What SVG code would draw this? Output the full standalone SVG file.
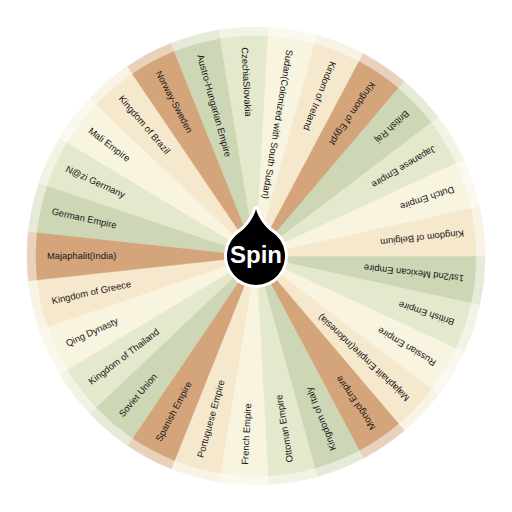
<svg xmlns="http://www.w3.org/2000/svg" xmlns:xlink="http://www.w3.org/1999/xlink" width="512" height="512" viewBox="0 0 512 512">
<style>
.s{color:#cdd6b5}.g{color:#e4e8cc}.l{color:#f8f4e0}.c{color:#f5e8cc}.t{color:#d4a57a}
.lbl{font-family:"Liberation Sans",Arial,sans-serif;font-size:9.4px;fill:#161616}
.spin{font-family:"Liberation Sans",Arial,sans-serif;font-size:24px;font-weight:bold;fill:#ffffff}
</style>
<defs>
<path id="w" d="M256,256 L476,256 A220,220 0 0 1 470.857,303.294 Z" fill="currentColor" stroke="currentColor" stroke-width="0.6"/>
<path id="r" d="M256,256 L485,256 A229,229 0 0 1 479.646,305.228 Z" fill="currentColor" stroke="currentColor" stroke-width="0.6"/>
</defs>
<rect width="512" height="512" fill="#ffffff"/>
<g id="ring" opacity="0.5">
<use xlink:href="#r" class="s"/>
<use xlink:href="#r" class="g" transform="rotate(12.4138 256 256)"/>
<use xlink:href="#r" class="l" transform="rotate(24.8276 256 256)"/>
<use xlink:href="#r" class="c" transform="rotate(37.2414 256 256)"/>
<use xlink:href="#r" class="t" transform="rotate(49.6552 256 256)"/>
<use xlink:href="#r" class="s" transform="rotate(62.0690 256 256)"/>
<use xlink:href="#r" class="g" transform="rotate(74.4828 256 256)"/>
<use xlink:href="#r" class="l" transform="rotate(86.8966 256 256)"/>
<use xlink:href="#r" class="c" transform="rotate(99.3103 256 256)"/>
<use xlink:href="#r" class="t" transform="rotate(111.7241 256 256)"/>
<use xlink:href="#r" class="s" transform="rotate(124.1379 256 256)"/>
<use xlink:href="#r" class="g" transform="rotate(136.5517 256 256)"/>
<use xlink:href="#r" class="l" transform="rotate(148.9655 256 256)"/>
<use xlink:href="#r" class="c" transform="rotate(161.3793 256 256)"/>
<use xlink:href="#r" class="t" transform="rotate(173.7931 256 256)"/>
<use xlink:href="#r" class="s" transform="rotate(186.2069 256 256)"/>
<use xlink:href="#r" class="g" transform="rotate(198.6207 256 256)"/>
<use xlink:href="#r" class="l" transform="rotate(211.0345 256 256)"/>
<use xlink:href="#r" class="c" transform="rotate(223.4483 256 256)"/>
<use xlink:href="#r" class="t" transform="rotate(235.8621 256 256)"/>
<use xlink:href="#r" class="s" transform="rotate(248.2759 256 256)"/>
<use xlink:href="#r" class="g" transform="rotate(260.6897 256 256)"/>
<use xlink:href="#r" class="l" transform="rotate(273.1034 256 256)"/>
<use xlink:href="#r" class="c" transform="rotate(285.5172 256 256)"/>
<use xlink:href="#r" class="t" transform="rotate(297.9310 256 256)"/>
<use xlink:href="#r" class="s" transform="rotate(310.3448 256 256)"/>
<use xlink:href="#r" class="g" transform="rotate(322.7586 256 256)"/>
<use xlink:href="#r" class="l" transform="rotate(335.1724 256 256)"/>
<use xlink:href="#r" class="c" transform="rotate(347.5862 256 256)"/>
</g>
<g id="wheel">
<use xlink:href="#w" class="s"/>
<use xlink:href="#w" class="g" transform="rotate(12.4138 256 256)"/>
<use xlink:href="#w" class="l" transform="rotate(24.8276 256 256)"/>
<use xlink:href="#w" class="c" transform="rotate(37.2414 256 256)"/>
<use xlink:href="#w" class="t" transform="rotate(49.6552 256 256)"/>
<use xlink:href="#w" class="s" transform="rotate(62.0690 256 256)"/>
<use xlink:href="#w" class="g" transform="rotate(74.4828 256 256)"/>
<use xlink:href="#w" class="l" transform="rotate(86.8966 256 256)"/>
<use xlink:href="#w" class="c" transform="rotate(99.3103 256 256)"/>
<use xlink:href="#w" class="t" transform="rotate(111.7241 256 256)"/>
<use xlink:href="#w" class="s" transform="rotate(124.1379 256 256)"/>
<use xlink:href="#w" class="g" transform="rotate(136.5517 256 256)"/>
<use xlink:href="#w" class="l" transform="rotate(148.9655 256 256)"/>
<use xlink:href="#w" class="c" transform="rotate(161.3793 256 256)"/>
<use xlink:href="#w" class="t" transform="rotate(173.7931 256 256)"/>
<use xlink:href="#w" class="s" transform="rotate(186.2069 256 256)"/>
<use xlink:href="#w" class="g" transform="rotate(198.6207 256 256)"/>
<use xlink:href="#w" class="l" transform="rotate(211.0345 256 256)"/>
<use xlink:href="#w" class="c" transform="rotate(223.4483 256 256)"/>
<use xlink:href="#w" class="t" transform="rotate(235.8621 256 256)"/>
<use xlink:href="#w" class="s" transform="rotate(248.2759 256 256)"/>
<use xlink:href="#w" class="g" transform="rotate(260.6897 256 256)"/>
<use xlink:href="#w" class="l" transform="rotate(273.1034 256 256)"/>
<use xlink:href="#w" class="c" transform="rotate(285.5172 256 256)"/>
<use xlink:href="#w" class="t" transform="rotate(297.9310 256 256)"/>
<use xlink:href="#w" class="s" transform="rotate(310.3448 256 256)"/>
<use xlink:href="#w" class="g" transform="rotate(322.7586 256 256)"/>
<use xlink:href="#w" class="l" transform="rotate(335.1724 256 256)"/>
<use xlink:href="#w" class="c" transform="rotate(347.5862 256 256)"/>
</g>
<g id="labels">
<text class="lbl" x="47" y="256" dy="0.35em" transform="rotate(186.2069 256 256)">1st/2nd Mexican Empire</text>
<text class="lbl" x="47" y="256" dy="0.35em" transform="rotate(198.6207 256 256)">British Empire</text>
<text class="lbl" x="47" y="256" dy="0.35em" transform="rotate(211.0345 256 256)">Russian Empire</text>
<text class="lbl" x="47" y="256" dy="0.35em" transform="rotate(223.4483 256 256)">Majaphalit Empire(Indonesia)</text>
<text class="lbl" x="47" y="256" dy="0.35em" transform="rotate(235.8621 256 256)">Mongol Empire</text>
<text class="lbl" x="47" y="256" dy="0.35em" transform="rotate(248.2759 256 256)">Kingdom of Italy</text>
<text class="lbl" x="47" y="256" dy="0.35em" transform="rotate(260.6897 256 256)">Ottoman Empire</text>
<text class="lbl" x="47" y="256" dy="0.35em" transform="rotate(273.1034 256 256)">French Empire</text>
<text class="lbl" x="47" y="256" dy="0.35em" transform="rotate(285.5172 256 256)">Portuguese Empire</text>
<text class="lbl" x="47" y="256" dy="0.35em" transform="rotate(297.9310 256 256)">Spanish Empire</text>
<text class="lbl" x="47" y="256" dy="0.35em" transform="rotate(310.3448 256 256)">Soviet Union</text>
<text class="lbl" x="47" y="256" dy="0.35em" transform="rotate(322.7586 256 256)">Kingdom of Thailand</text>
<text class="lbl" x="47" y="256" dy="0.35em" transform="rotate(335.1724 256 256)">Qing Dynasty</text>
<text class="lbl" x="47" y="256" dy="0.35em" transform="rotate(347.5862 256 256)">Kingdom of Greece</text>
<text class="lbl" x="47" y="256" dy="0.35em">Majaphalit(India)</text>
<text class="lbl" x="47" y="256" dy="0.35em" transform="rotate(12.4138 256 256)">German Empire</text>
<text class="lbl" x="47" y="256" dy="0.35em" transform="rotate(24.8276 256 256)">N@zi Germany</text>
<text class="lbl" x="47" y="256" dy="0.35em" transform="rotate(37.2414 256 256)">Mali Empire</text>
<text class="lbl" x="47" y="256" dy="0.35em" transform="rotate(49.6552 256 256)">Kingdom of Brazil</text>
<text class="lbl" x="47" y="256" dy="0.35em" transform="rotate(62.0690 256 256)">Norway-Sweden</text>
<text class="lbl" x="47" y="256" dy="0.35em" transform="rotate(74.4828 256 256)">Austro-Hungarian Empire</text>
<text class="lbl" x="47" y="256" dy="0.35em" transform="rotate(86.8966 256 256)">CzechiaSlovakia</text>
<text class="lbl" x="47" y="256" dy="0.35em" transform="rotate(99.3103 256 256)">Sudan(Colonized with South Sudan)</text>
<text class="lbl" x="47" y="256" dy="0.35em" transform="rotate(111.7241 256 256)">Kindom of Ireland</text>
<text class="lbl" x="47" y="256" dy="0.35em" transform="rotate(124.1379 256 256)">Kingdom of Egypt</text>
<text class="lbl" x="47" y="256" dy="0.35em" transform="rotate(136.5517 256 256)">British Raj</text>
<text class="lbl" x="47" y="256" dy="0.35em" transform="rotate(148.9655 256 256)">Japanese Empire</text>
<text class="lbl" x="47" y="256" dy="0.35em" transform="rotate(161.3793 256 256)">Dutch Empire</text>
<text class="lbl" x="47" y="256" dy="0.35em" transform="rotate(173.7931 256 256)">Kingdom of Belgium</text>
</g>
<g id="spin-button">
<path d="M256,209 C257.5,216 264.6,227.2 271.4,231.4 A29,29 0 1 1 240.6,231.4 C247.4,227.2 254.5,216 256,209 Z" fill="#000000" stroke="#ffffff" stroke-width="6" stroke-linejoin="round" paint-order="stroke"/>
<text class="spin" x="256" y="262.5" text-anchor="middle">Spin</text>
</g>
</svg>
